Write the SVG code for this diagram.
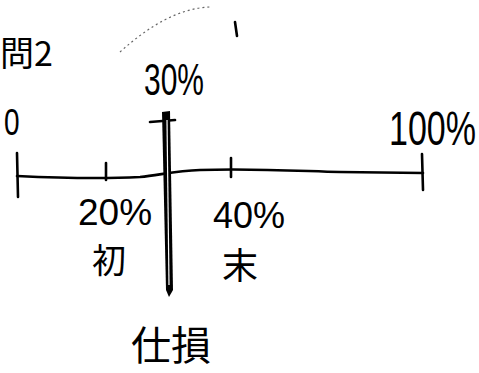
<svg xmlns="http://www.w3.org/2000/svg" width="479" height="373" viewBox="0 0 479 373">
<style>
.t{font-family:"Noto Sans CJK JP","Noto Sans",sans-serif;fill:#000}
.d{font-family:"Liberation Sans",Arial,sans-serif;fill:#000}
.ln{stroke:#000;stroke-width:2.6;fill:none;stroke-linecap:round}
</style>
<rect width="479" height="373" fill="#fff"/>
<g id="connectors">
<path class="ln" d="M17 176 C60 178 100 179 140 177 C160 175 175 171 200 170 C250 168 300 171 340 172 L423 173"/>
<path class="ln" d="M17 153 L18 197"/>
<path class="ln" d="M422 154 L423 190"/>
<path class="ln" d="M106 163 L106 180"/>
<path class="ln" d="M231 158 L231 177"/>
<path class="ln" d="M150 122 L175 120"/>
<path d="M120 52 C150 25 180 8 210 7" fill="none" stroke="#666" stroke-width="1.2" stroke-dasharray="2 3"/>
<path class="ln" d="M235 22 L237 36" stroke-width="2"/>
</g>
<g id="bar">
<path d="M162 112 L170 111 L173 290 L169 297 L166 290 Z" fill="#000"/>
<path d="M167 120 L169 285" stroke="#fff" stroke-width="1.2"/>
</g>
<g id="title">
<text class="t" x="0" y="66" font-size="34">問2</text>
</g>
<g id="label-30">
<text class="d" font-size="30" transform="translate(144 95) scale(1 1.5)">30%</text>
</g>
<g id="label-0">
<text class="d" font-size="28" transform="translate(4 135) scale(1 1.35)">0</text>
</g>
<g id="label-100">
<text class="d" font-size="34" transform="translate(389 145) scale(1 1.4)">100%</text>
</g>
<g id="label-20">
<text class="d" x="78" y="225" font-size="37">20%</text>
<text class="t" x="92" y="273" font-size="34">初</text>
</g>
<g id="label-40">
<text class="d" x="213" y="228" font-size="36">40%</text>
<text class="t" x="222" y="279" font-size="36">末</text>
</g>
<g id="label-shison">
<text class="t" x="131" y="360" font-size="40">仕損</text>
</g>
</svg>
